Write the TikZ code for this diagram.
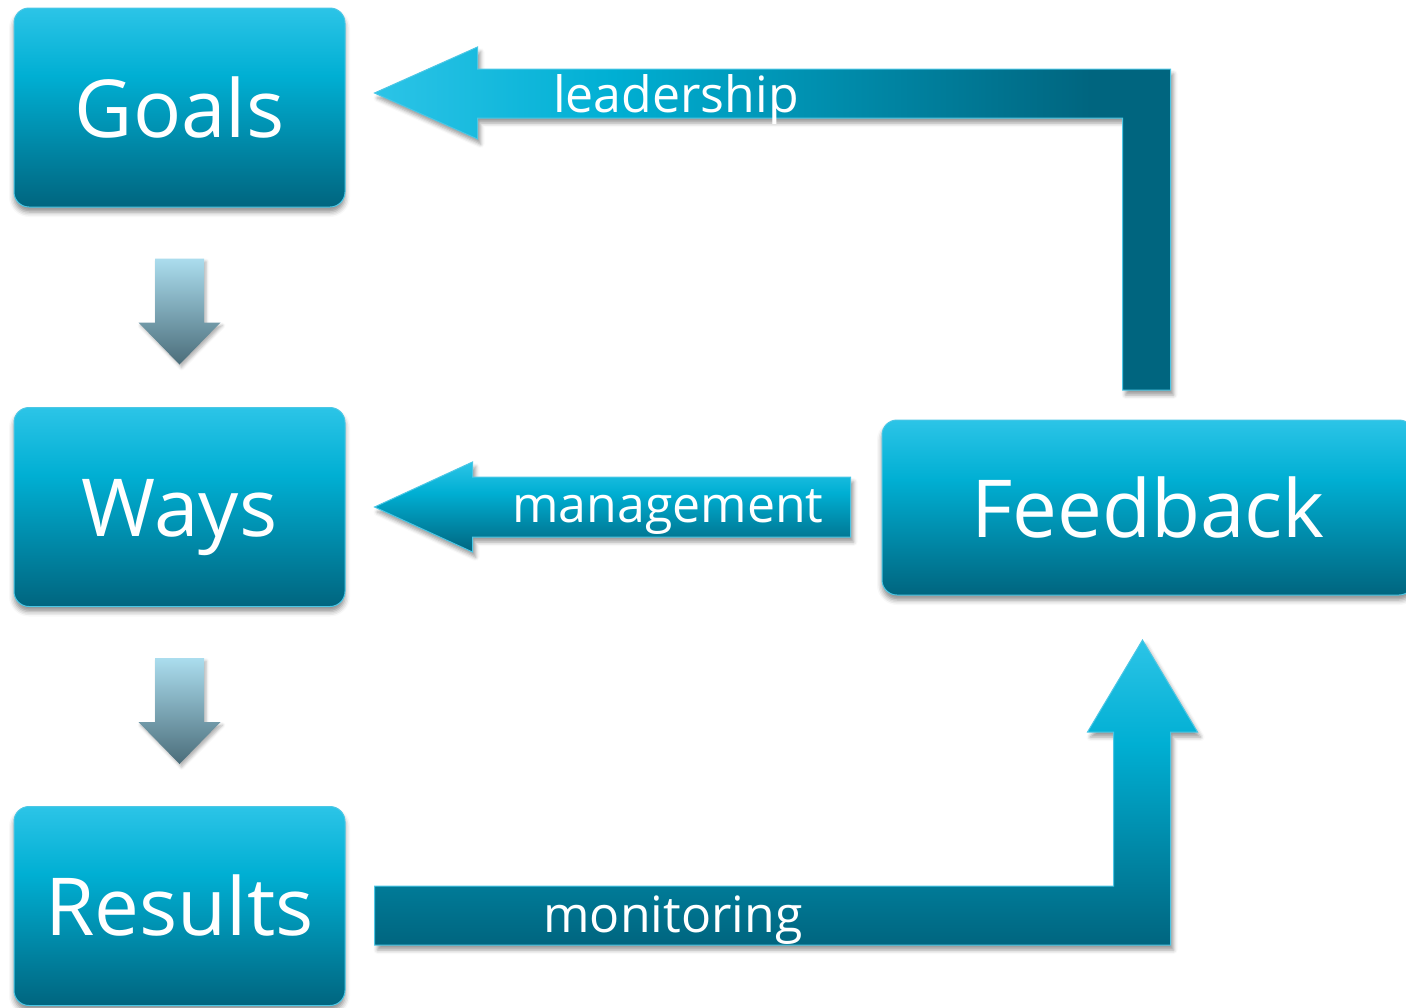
\documentclass[tikz,border=0pt]{standalone}
\usepackage{fontspec}
\setmainfont{Open Sans}
\usetikzlibrary{calc}
\usetikzlibrary{shadows.blur}

\definecolor{tealtop}{HTML}{2CC4E7}
\definecolor{tealmid}{HTML}{00AFD3}
\definecolor{tealbot}{HTML}{00657F}
\definecolor{greytop}{HTML}{ABDDEE}
\definecolor{greybot}{HTML}{4B6D7A}
\definecolor{rim}{HTML}{4CC7E5}

% shadings used by the boxes and the block arrows
\pgfdeclareverticalshading{tealdown}{100bp}{color(0bp)=(tealbot); color(25bp)=(tealbot); color(58bp)=(tealmid); color(75bp)=(tealtop); color(100bp)=(tealtop)}
\pgfdeclarehorizontalshading{tealright}{100bp}{color(0bp)=(tealtop); color(25bp)=(tealtop); color(40bp)=(tealmid); color(70bp)=(tealbot); color(100bp)=(tealbot)}
\pgfdeclareverticalshading{greydown}{100bp}{color(0bp)=(greybot); color(25bp)=(greybot); color(75bp)=(greytop); color(100bp)=(greytop)}

\tikzset{
  box/.style={rectangle, rounded corners=15pt, draw=rim, line width=1pt,
    shade, shading=tealdown, text=white, font=\fontsize{80}{80}\selectfont,
    minimum width=331pt, minimum height=199pt, text height=59pt, text depth=0pt,
    inner sep=0pt,
    blur shadow={shadow xshift=0pt, shadow yshift=-5pt, shadow blur radius=5pt, shadow opacity=45}},
  band/.style={draw=rim, line width=1pt,
    blur shadow={shadow xshift=3pt, shadow yshift=-5pt, shadow blur radius=4pt, shadow opacity=40}},
  flowtext/.style={anchor=base, inner sep=0pt, text=white, font=\fontsize{50}{50}\selectfont}
}

% small grey arrow below a box
\newcommand\stepdown[1]{%
  \shade[shading=greydown,
    blur shadow={shadow xshift=2pt, shadow yshift=-3pt, shadow blur radius=3pt, shadow opacity=30}]
    ($(#1.south)+(-24.5,51)$) -- ++(49,0) -- ++(0,64) -- ++(16.5,0)
    -- ++(-41,42) -- ++(-41,-42) -- ++(16.5,0) -- cycle;%
}

\begin{document}
\begin{tikzpicture}[x=1pt, y=-1pt]
\useasboundingbox (0,0) rectangle (1406,1007);

% the four boxes
\node[box] (goals) at (179.5,107.5) {Goals};
\node[box] (ways) at (179.5,507) {Ways};
\node[box] (results) at (179.5,906) {Results};
\node[box, minimum width=532pt, minimum height=175pt] (feedback) at (1148,507.5) {Feedback};

% goals -> ways -> results
\stepdown{goals}
\stepdown{ways}

% leadership: feedback back up to goals
\coordinate (leadtip) at ($(goals.east)+(29,-14.5)$);
\shade[band, shading=tealright] (leadtip) -- ++(103,-46) -- ++(0,22) -- ++(693,0)
  -- ++(0,321) -- ++(-48,0) -- ++(0,-272) -- ++(-645,0) -- ++(0,21) -- cycle;
\node[flowtext] (leadtext) at (676,112) {leadership};

% management: feedback to ways
\coordinate (mgmttip) at ($(ways.east)+(29,0)$);
\shade[band, shading=tealdown] (mgmttip) -- ++(98,-45) -- ++(0,15) -- ++(378,0)
  -- ++(0,60) -- ++(-378,0) -- ++(0,15) -- cycle;
\node[flowtext] (mgmttext) at (668,522) {management};

% monitoring: results to feedback
\coordinate (montail) at ($(results.east)+(29,-20)$);
\shade[band, shading=tealdown] (montail) -- ++(739,0) -- ++(0,-154) -- ++(-26,0)
  -- ++(55,-92) -- ++(55,92) -- ++(-27,0) -- ++(0,213) -- ++(-796,0) -- cycle;
\node[flowtext] (montext) at (673,932) {monitoring};
\end{tikzpicture}
\end{document}
